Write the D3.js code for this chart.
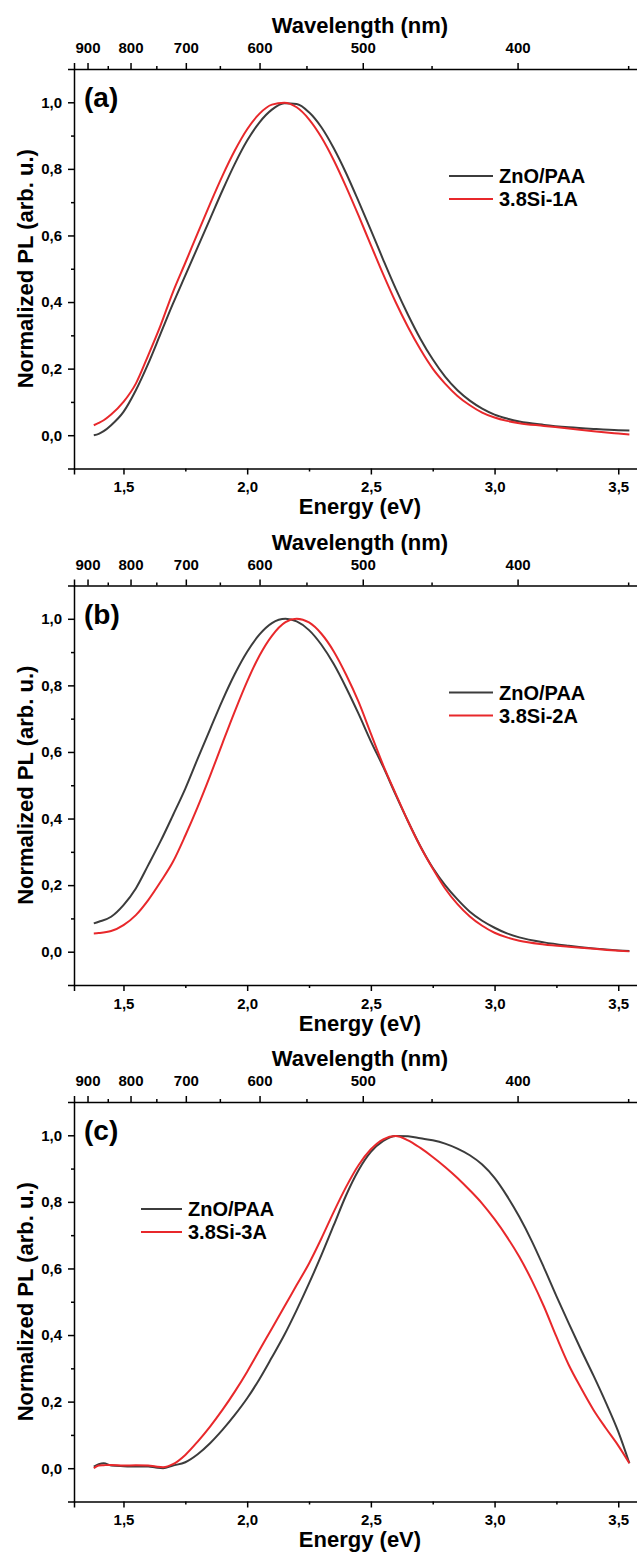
<!DOCTYPE html>
<html>
<head>
<meta charset="utf-8">
<script src="https://cdn.jsdelivr.net/npm/d3@7"></script>
<style>
body { margin: 0; background: #fff; }
svg text { font-family: 'Liberation Sans', Arial, sans-serif; font-weight: bold; fill: #000; }
</style>
</head>
<body>
<svg id="chart" width="637" height="1553"></svg>
<script>
// energy grids (eV)
const energyA = [1.38, 1.40, 1.42, 1.45, 1.50, 1.55, 1.60, 1.65, 1.70, 1.75, 1.80, 1.85, 1.90, 1.95, 2.00, 2.05, 2.10, 2.15, 2.20, 2.25, 2.30, 2.35, 2.40, 2.45, 2.50, 2.55, 2.60, 2.65, 2.70, 2.75, 2.80, 2.85, 2.90, 2.95, 3.00, 3.05, 3.10, 3.20, 3.30, 3.40, 3.50, 3.545];
const znoA = [0.000, 0.004, 0.012, 0.030, 0.070, 0.135, 0.215, 0.305, 0.395, 0.480, 0.565, 0.650, 0.735, 0.815, 0.885, 0.940, 0.978, 0.997, 0.995, 0.970, 0.925, 0.862, 0.787, 0.703, 0.616, 0.527, 0.441, 0.362, 0.290, 0.228, 0.176, 0.135, 0.104, 0.080, 0.062, 0.050, 0.041, 0.031, 0.024, 0.019, 0.015, 0.014];
const siA = [0.030, 0.037, 0.045, 0.062, 0.100, 0.155, 0.240, 0.330, 0.430, 0.518, 0.607, 0.695, 0.779, 0.855, 0.919, 0.966, 0.993, 0.999, 0.985, 0.949, 0.895, 0.826, 0.746, 0.660, 0.571, 0.483, 0.400, 0.325, 0.258, 0.200, 0.155, 0.118, 0.090, 0.068, 0.053, 0.043, 0.036, 0.028, 0.020, 0.012, 0.005, 0.002];

const energyB = [1.38, 1.40, 1.45, 1.50, 1.55, 1.60, 1.65, 1.70, 1.75, 1.80, 1.85, 1.90, 1.95, 2.00, 2.05, 2.10, 2.155, 2.20, 2.25, 2.30, 2.35, 2.40, 2.45, 2.50, 2.55, 2.60, 2.65, 2.70, 2.75, 2.80, 2.85, 2.90, 2.95, 3.00, 3.05, 3.10, 3.20, 3.30, 3.40, 3.50, 3.545];
const znoB = [0.085, 0.090, 0.105, 0.140, 0.190, 0.260, 0.332, 0.410, 0.490, 0.580, 0.668, 0.755, 0.834, 0.901, 0.953, 0.987, 1.000, 0.992, 0.966, 0.922, 0.864, 0.793, 0.715, 0.632, 0.555, 0.472, 0.392, 0.317, 0.252, 0.200, 0.157, 0.120, 0.093, 0.072, 0.055, 0.043, 0.028, 0.018, 0.010, 0.004, 0.002];
const siB = [0.055, 0.056, 0.062, 0.080, 0.110, 0.155, 0.210, 0.270, 0.349, 0.435, 0.528, 0.626, 0.722, 0.812, 0.890, 0.949, 0.990, 1.000, 0.989, 0.955, 0.902, 0.832, 0.751, 0.655, 0.560, 0.475, 0.392, 0.316, 0.250, 0.190, 0.143, 0.106, 0.078, 0.057, 0.043, 0.033, 0.022, 0.015, 0.009, 0.003, 0.001];

const energyC = [1.38, 1.40, 1.42, 1.45, 1.50, 1.55, 1.60, 1.63, 1.66, 1.70, 1.75, 1.80, 1.85, 1.90, 1.95, 2.00, 2.05, 2.10, 2.15, 2.20, 2.25, 2.30, 2.35, 2.40, 2.45, 2.50, 2.55, 2.60, 2.65, 2.70, 2.75, 2.80, 2.85, 2.90, 2.95, 3.00, 3.05, 3.10, 3.15, 3.20, 3.25, 3.30, 3.35, 3.40, 3.45, 3.50, 3.545];
const znoC = [0.005, 0.012, 0.015, 0.008, 0.006, 0.005, 0.005, 0.002, 0.000, 0.008, 0.018, 0.042, 0.075, 0.115, 0.160, 0.210, 0.268, 0.333, 0.400, 0.475, 0.555, 0.640, 0.730, 0.820, 0.895, 0.950, 0.983, 0.998, 0.997, 0.991, 0.985, 0.975, 0.960, 0.940, 0.912, 0.872, 0.818, 0.755, 0.683, 0.602, 0.517, 0.435, 0.355, 0.278, 0.197, 0.110, 0.015];
const siC = [0.000, 0.008, 0.009, 0.010, 0.008, 0.009, 0.008, 0.005, 0.003, 0.012, 0.040, 0.080, 0.125, 0.175, 0.230, 0.290, 0.355, 0.420, 0.485, 0.550, 0.615, 0.690, 0.770, 0.845, 0.910, 0.958, 0.988, 0.998, 0.985, 0.962, 0.935, 0.905, 0.872, 0.835, 0.795, 0.748, 0.695, 0.635, 0.565, 0.485, 0.395, 0.310, 0.240, 0.175, 0.120, 0.068, 0.015];

const panelTags = ['(a)', '(b)', '(c)'];
const sampleNames = ['3.8Si-1A', '3.8Si-2A', '3.8Si-3A'];
const refName = 'ZnO/PAA';

const energyTicks = [1.5, 2.0, 2.5, 3.0, 3.5];
const energyMinor = [1.75, 2.25, 2.75, 3.25];
const plTicks = [0.0, 0.2, 0.4, 0.6, 0.8, 1.0];
const plMinor = [0.1, 0.3, 0.5, 0.7, 0.9];
const waveTicks = [900, 800, 700, 600, 500, 400];
const waveMinor = [850, 750, 650, 550, 450, 350];

// top axis calibration (eV = A / nm + B)
const WAVE_A = 1251.6;
const WAVE_B = -0.036;

const GREY = '#3c3c3c';
const RED = '#e8282b';
const PANEL_H = 516.5;

const svg = d3.select('#chart');
svg.append('rect').attr('width', 637).attr('height', 1553).attr('fill', '#fff');

const x = d3.scaleLinear().domain([1.3, 3.6]).range([74, 643]);
const y = d3.scaleLinear().domain([-0.1, 1.1]).range([468.5, 69]);
// inverse-wavelength scale lines up with the energy axis
const xInv = d3.scaleLinear()
	.domain(x.domain().map(e => (e - WAVE_B) / WAVE_A))
	.range(x.range());

const commaFmt = d => d3.format('.1f')(d).replace('.', ',');

const line = d3.line()
	.x(d => x(d[0]))
	.y(d => y(d[1]))
	.curve(d3.curveMonotoneX);

function styleAxis(g, size) {
	g.attr('font-family', null).attr('font-size', null);
	g.selectAll('line, path').attr('stroke', '#000').attr('stroke-width', 1.5);
	g.selectAll('text').attr('font-size', size);
}

function drawPanel(i, energy, zno, si, legendPos) {
	const g = svg.append('g').attr('transform', `translate(0,${i * PANEL_H})`);

	// bottom energy axis
	const gx = g.append('g').attr('transform', `translate(0,${y.range()[0]})`)
		.call(d3.axisBottom(x).tickValues(energyTicks).tickSizeOuter(0)
			.tickSize(6).tickPadding(7).tickFormat(commaFmt));
	styleAxis(gx, 15);
	g.append('g').attr('transform', `translate(0,${y.range()[0]})`)
		.call(d3.axisBottom(x).tickValues(energyMinor).tickSize(3).tickFormat(''))
		.call(a => a.select('.domain').remove())
		.call(a => styleAxis(a, 15));

	// top wavelength axis
	const gt = g.append('g').attr('transform', `translate(0,${y.range()[1]})`)
		.call(d3.axisTop(xInv).tickValues(waveTicks.map(w => 1 / w)).tickSizeOuter(0)
			.tickSize(6).tickPadding(10).tickFormat(u => Math.round(1 / u)));
	styleAxis(gt, 15);
	g.append('g').attr('transform', `translate(0,${y.range()[1]})`)
		.call(d3.axisTop(xInv).tickValues(waveMinor.map(w => 1 / w)).tickSize(3).tickFormat(''))
		.call(a => a.select('.domain').remove())
		.call(a => styleAxis(a, 15));

	// left PL axis
	const gy = g.append('g').attr('transform', `translate(${x.range()[0]},0)`)
		.call(d3.axisLeft(y).tickValues(plTicks).tickSizeOuter(0)
			.tickSize(6).tickPadding(6).tickFormat(commaFmt));
	styleAxis(gy, 15);
	g.append('g').attr('transform', `translate(${x.range()[0]},0)`)
		.call(d3.axisLeft(y).tickValues(plMinor).tickSize(3).tickFormat(''))
		.call(a => a.select('.domain').remove())
		.call(a => styleAxis(a, 15));

	// titles
	g.append('text').attr('x', 360).attr('y', 514).attr('text-anchor', 'middle')
		.attr('font-size', 22).text('Energy (eV)');
	g.append('text').attr('x', 360).attr('y', 33).attr('text-anchor', 'middle')
		.attr('font-size', 22).text('Wavelength (nm)');
	g.append('text').attr('transform', `translate(33,${(y.range()[0] + y.range()[1]) / 2}) rotate(-90)`)
		.attr('text-anchor', 'middle').attr('font-size', 22).text('Normalized PL (arb. u.)');
	g.append('text').attr('x', 84).attr('y', 107).attr('font-size', 28).text(panelTags[i]);

	// curves
	const series = [
		{ name: refName, color: GREY, values: zno },
		{ name: sampleNames[i], color: RED, values: si }
	];
	series.forEach(s => {
		g.append('path')
			.datum(energy.map((e, k) => [e, s.values[k]]))
			.attr('fill', 'none')
			.attr('stroke', s.color)
			.attr('stroke-width', 2)
			.attr('d', line);
	});

	// legend
	const leg = g.append('g').attr('transform', `translate(${legendPos[0]},${legendPos[1]})`);
	series.forEach((s, k) => {
		leg.append('line').attr('x1', 0).attr('x2', legendPos[2]).attr('y1', k * 23).attr('y2', k * 23)
			.attr('stroke', s.color).attr('stroke-width', 2);
		leg.append('text').attr('x', legendPos[2] + 6).attr('y', k * 23 + 7)
			.attr('font-size', 20).text(s.name);
	});
}

drawPanel(0, energyA, znoA, siA, [449, 176, 44]);
drawPanel(1, energyB, znoB, siB, [449, 176, 44]);
drawPanel(2, energyC, znoC, siC, [141, 176, 41]);
</script>
</body>
</html>
